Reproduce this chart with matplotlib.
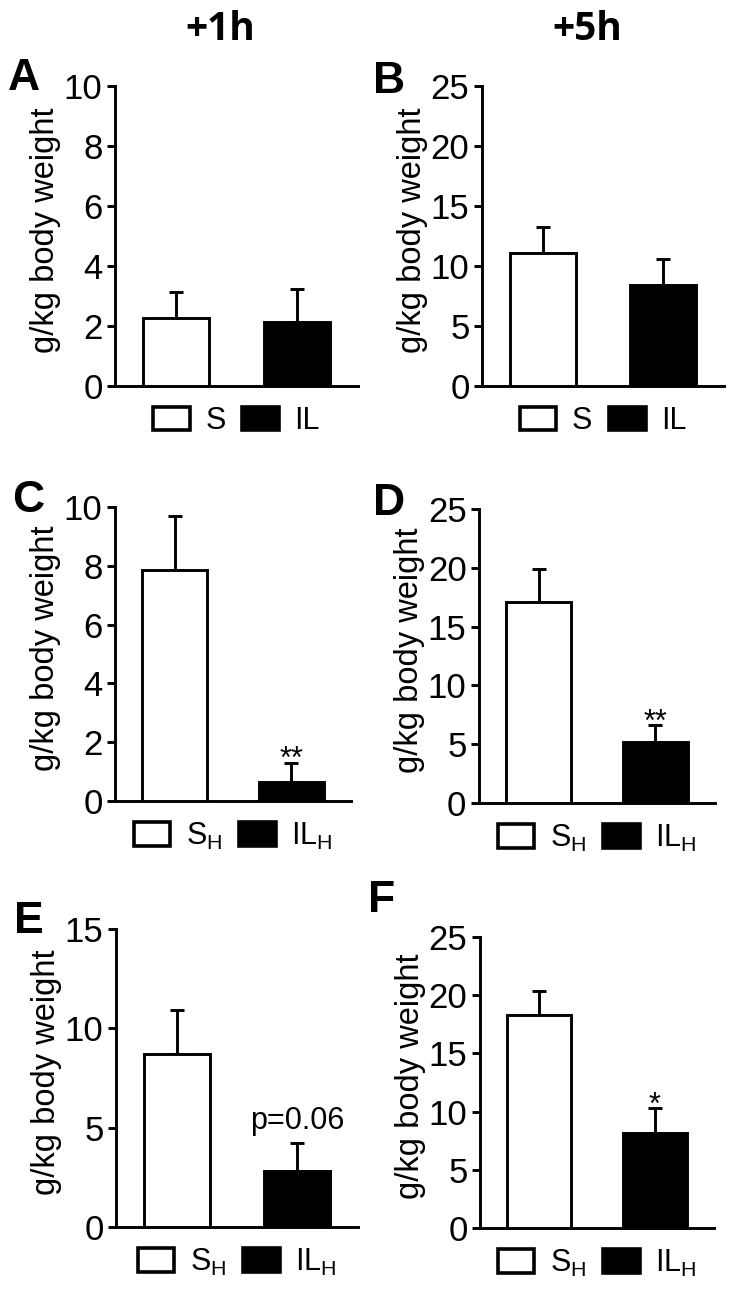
"""Six-panel bar chart: g/kg body weight at +1h and +5h (S vs IL groups)."""

import matplotlib
matplotlib.use("Agg")  # headless
import matplotlib.pyplot as plt
from matplotlib.patches import Patch

plt.rcParams["font.family"] = ["Liberation Sans", "DejaVu Sans"]
plt.rcParams["mathtext.default"] = "regular"

# ---- data ----
COLUMN_TITLES = ["+1h", "+5h"]
LETTERS = ["A", "B", "C", "D", "E", "F"]
S_MEANS = [2.27, 11.05, 7.86, 17.1, 8.7, 18.3]
S_ERRS = [0.86, 2.2, 1.84, 2.8, 2.2, 2.1]
IL_MEANS = [2.13, 8.4, 0.65, 5.2, 2.8, 8.2]
IL_ERRS = [1.12, 2.2, 0.65, 1.4, 1.45, 2.1]
Y_MAX = [10, 25, 10, 25, 15, 25]
Y_STEP = [2, 5, 2, 5, 5, 5]
IL_NOTES = ["", "", "**", "**", "p=0.06", "*"]
LEGEND_LABELS = [
    ["S", "IL"], ["S", "IL"],
    ["S$_H$", "IL$_H$"], ["S$_H$", "IL$_H$"],
    ["S$_H$", "IL$_H$"], ["S$_H$", "IL$_H$"],
]
Y_LABEL = "g/kg body weight"

# ---- layout in pixels (figure is 734 x 1308 at dpi 100) ----
W, H = 734, 1308
AX_BOX = [  # left, top, right, bottom
    (115, 86, 358, 386), (482, 86, 724, 386),
    (115, 507, 351, 801), (479, 509, 715, 803),
    (116, 929, 358, 1227), (480, 937, 714, 1228),
]
LETTER_POS = [(8, 90), (373, 93), (12, 512), (373, 515), (14, 933), (368, 912)]
TITLE_POS = [(220, 40), (587, 40)]
NOTE_OFFSET = {"**": -4, "*": -4, "p=0.06": 10}

LW = 2.1

fig = plt.figure(figsize=(W / 100, H / 100), dpi=100, facecolor="white")

for i, letter in enumerate(LETTERS):
    left, top, right, bottom = AX_BOX[i]
    ax = fig.add_axes([left / W, 1 - bottom / H, (right - left) / W, (bottom - top) / H])
    ax_w = right - left

    ax.bar([0, 1], [S_MEANS[i], IL_MEANS[i]], width=0.55,
           color=["white", "black"], edgecolor="black", linewidth=LW, zorder=3)
    ax.errorbar([0, 1], [S_MEANS[i], IL_MEANS[i]],
                yerr=[[0, 0], [S_ERRS[i], IL_ERRS[i]]],
                fmt="none", ecolor="black", elinewidth=LW, capsize=5, capthick=LW, zorder=2)

    ax.set_xlim(-0.51, 1.51)
    ax.set_ylim(0, Y_MAX[i])
    ax.set_yticks(range(0, Y_MAX[i] + 1, Y_STEP[i]))
    ax.set_xticks([])
    ax.tick_params(axis="y", labelsize=25, length=6, width=LW, pad=3, direction="out")
    for side in ("top", "right"):
        ax.spines[side].set_visible(False)
    for side in ("left", "bottom"):
        ax.spines[side].set_linewidth(LW)

    ax.set_ylabel(Y_LABEL, fontsize=23.5)
    ax.yaxis.set_label_coords(-54 / ax_w, 0.52)

    note = IL_NOTES[i]
    if note:
        ax.annotate(note, xy=(1, IL_MEANS[i] + IL_ERRS[i]), xytext=(0, NOTE_OFFSET[note]),
                    textcoords="offset points", ha="center", va="baseline",
                    fontsize=22)

    handles = [Patch(facecolor="white", edgecolor="black", linewidth=2.6),
               Patch(facecolor="black", edgecolor="black", linewidth=2.6)]
    ax.legend(handles, LEGEND_LABELS[i], loc="center",
              bbox_to_anchor=((left + right) / 2 / W, 1 - (bottom + 35) / H),
              bbox_transform=fig.transFigure, ncol=2, frameon=False, fontsize=22,
              handlelength=1.2, handleheight=0.8, handletextpad=0.5,
              columnspacing=0.55, borderpad=0, borderaxespad=0)

    lx, ly = LETTER_POS[i]
    fig.text(lx / W, 1 - ly / H, letter, fontsize=32, fontweight="bold",
             ha="left", va="baseline")

for title, (tx, ty) in zip(COLUMN_TITLES, TITLE_POS):
    fig.text(tx / W, 1 - ty / H, title, fontsize=28, fontweight="bold",
             family="Open Sans", ha="center", va="baseline")

fig.savefig("out.png", dpi=100, facecolor="white")
